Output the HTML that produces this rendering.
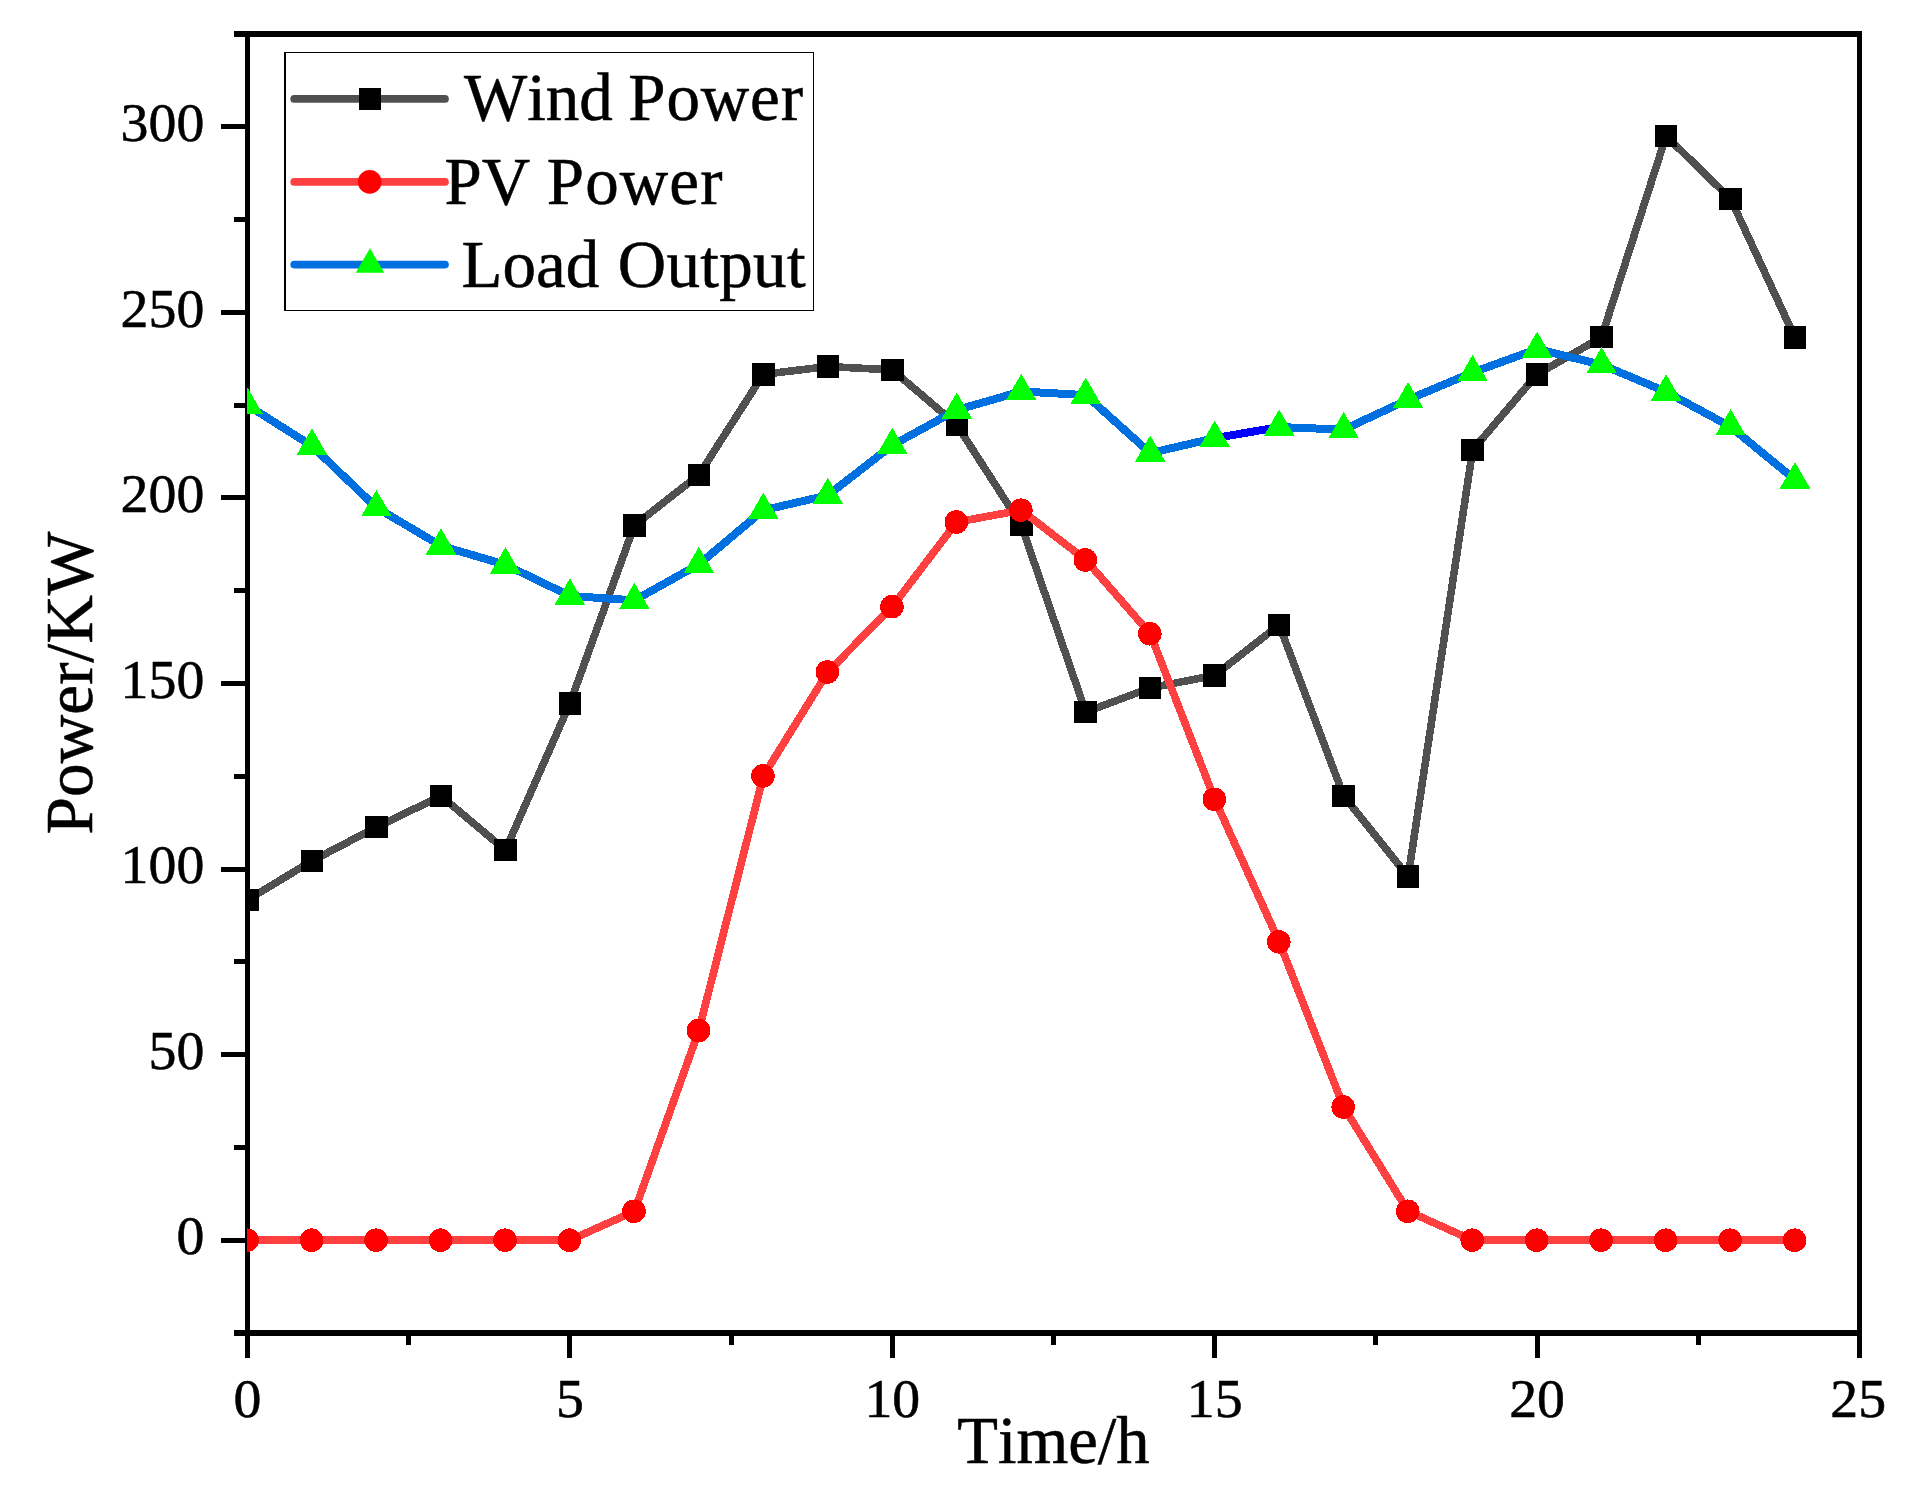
<!DOCTYPE html>
<html lang="en"><head><meta charset="utf-8"><title>Power / Time chart</title>
<style>html,body{margin:0;padding:0;background:#fff}body{width:1916px;height:1493px;overflow:hidden}svg{display:block}text{font-family:'Liberation Serif','Times New Roman',Times,serif;fill:#000;stroke:#000;stroke-width:0.55px;font-kerning:none;font-variant-ligatures:none}</style></head><body>
<svg width="1916" height="1493" viewBox="0 0 1916 1493">
<rect width="1916" height="1493" fill="#fff"/>
<defs><clipPath id="plotclip"><rect x="247" y="34" width="1612.5" height="1299"/></clipPath></defs>
<g fill="#000" shape-rendering="crispEdges">
<rect x="245" y="31" width="5" height="1305"/>
<rect x="1857" y="31" width="5" height="1305"/>
<rect x="245" y="31" width="1617" height="6"/>
<rect x="245" y="1330" width="1617" height="6"/>
<rect x="221" y="1238" width="24" height="5"/>
<rect x="221" y="1052" width="24" height="5"/>
<rect x="221" y="867" width="24" height="5"/>
<rect x="221" y="681" width="24" height="5"/>
<rect x="221" y="495" width="24" height="5"/>
<rect x="221" y="310" width="24" height="5"/>
<rect x="221" y="124" width="24" height="5"/>
<rect x="234" y="1330" width="11" height="6"/>
<rect x="234" y="1145" width="11" height="5"/>
<rect x="234" y="959" width="11" height="5"/>
<rect x="234" y="774" width="11" height="5"/>
<rect x="234" y="588" width="11" height="5"/>
<rect x="234" y="403" width="11" height="5"/>
<rect x="234" y="217" width="11" height="5"/>
<rect x="234" y="31" width="11" height="6"/>
<rect x="245" y="1336" width="5" height="22"/>
<rect x="567" y="1336" width="5" height="22"/>
<rect x="890" y="1336" width="5" height="22"/>
<rect x="1212" y="1336" width="5" height="22"/>
<rect x="1535" y="1336" width="5" height="22"/>
<rect x="1857" y="1336" width="5" height="22"/>
<rect x="406" y="1336" width="5" height="9"/>
<rect x="729" y="1336" width="5" height="9"/>
<rect x="1051" y="1336" width="5" height="9"/>
<rect x="1373" y="1336" width="5" height="9"/>
<rect x="1696" y="1336" width="5" height="9"/>
</g>
<g font-size="55.8px">
<text x="204.3" y="1254.41" text-anchor="end">0</text>
<text x="204.3" y="1068.84" text-anchor="end">50</text>
<text x="204.3" y="883.27" text-anchor="end">100</text>
<text x="204.3" y="697.7" text-anchor="end">150</text>
<text x="204.3" y="512.13" text-anchor="end">200</text>
<text x="204.3" y="326.56" text-anchor="end">250</text>
<text x="204.3" y="140.99" text-anchor="end">300</text>
<text x="247.5" y="1417.3" text-anchor="middle">0</text>
<text x="569.9" y="1417.3" text-anchor="middle">5</text>
<text x="892.3" y="1417.3" text-anchor="middle">10</text>
<text x="1214.7" y="1417.3" text-anchor="middle">15</text>
<text x="1537.1" y="1417.3" text-anchor="middle">20</text>
<text x="1858.2" y="1417.3" text-anchor="middle">25</text>
</g>
<text x="1053.5" y="1463" font-size="66.6px" text-anchor="middle">Time/h</text>
<text transform="translate(92.4 683) rotate(-90)" font-size="67.3px" text-anchor="middle">Power/KW</text>
<g clip-path="url(#plotclip)" shape-rendering="crispEdges">
<polyline points="247.5,899.88 311.98,860.91 376.46,827.13 440.94,795.96 505.42,850.14 569.9,703.54 634.38,525.39 698.86,474.92 763.34,374.34 827.82,366.54 892.3,369.88 956.78,424.81 1021.26,525.02 1085.74,712.08 1150.22,687.95 1214.7,675.33 1279.18,624.86 1343.66,795.96 1408.14,876.49 1472.62,450.05 1537.1,374.34 1601.58,337.22 1666.06,136.06 1730.54,198.79 1795.02,337.59" fill="none" stroke="#505050" stroke-width="7.6" stroke-linejoin="round" stroke-linecap="round"/>
<g fill="#000"><rect x="236.25" y="888.63" width="22.5" height="22.5"/><rect x="300.73" y="849.66" width="22.5" height="22.5"/><rect x="365.21" y="815.88" width="22.5" height="22.5"/><rect x="429.69" y="784.71" width="22.5" height="22.5"/><rect x="494.17" y="838.89" width="22.5" height="22.5"/><rect x="558.65" y="692.29" width="22.5" height="22.5"/><rect x="623.13" y="514.14" width="22.5" height="22.5"/><rect x="687.61" y="463.67" width="22.5" height="22.5"/><rect x="752.09" y="363.09" width="22.5" height="22.5"/><rect x="816.57" y="355.29" width="22.5" height="22.5"/><rect x="881.05" y="358.63" width="22.5" height="22.5"/><rect x="945.53" y="413.56" width="22.5" height="22.5"/><rect x="1010.01" y="513.77" width="22.5" height="22.5"/><rect x="1074.49" y="700.83" width="22.5" height="22.5"/><rect x="1138.97" y="676.7" width="22.5" height="22.5"/><rect x="1203.45" y="664.08" width="22.5" height="22.5"/><rect x="1267.93" y="613.61" width="22.5" height="22.5"/><rect x="1332.41" y="784.71" width="22.5" height="22.5"/><rect x="1396.89" y="865.24" width="22.5" height="22.5"/><rect x="1461.37" y="438.8" width="22.5" height="22.5"/><rect x="1525.85" y="363.09" width="22.5" height="22.5"/><rect x="1590.33" y="325.97" width="22.5" height="22.5"/><rect x="1654.81" y="124.81" width="22.5" height="22.5"/><rect x="1719.29" y="187.54" width="22.5" height="22.5"/><rect x="1783.77" y="326.34" width="22.5" height="22.5"/></g>
<polyline points="247.5,1240.21 311.98,1240.21 376.46,1240.21 440.94,1240.21 505.42,1240.21 569.9,1240.21 634.38,1211.27 698.86,1030.52 763.34,775.91 827.82,671.99 892.3,606.67 956.78,522.05 1021.26,510.18 1085.74,559.91 1150.22,633.77 1214.7,799.3 1279.18,941.82 1343.66,1106.97 1408.14,1211.27 1472.62,1240.21 1537.1,1240.21 1601.58,1240.21 1666.06,1240.21 1730.54,1240.21 1795.02,1240.21" fill="none" stroke="#FF4040" stroke-width="7.7" stroke-linejoin="round" stroke-linecap="round"/>
<g fill="#FF0000"><circle cx="247.1" cy="1240.21" r="11.8"/><circle cx="311.58" cy="1240.21" r="11.8"/><circle cx="376.06" cy="1240.21" r="11.8"/><circle cx="440.54" cy="1240.21" r="11.8"/><circle cx="505.02" cy="1240.21" r="11.8"/><circle cx="569.5" cy="1240.21" r="11.8"/><circle cx="633.98" cy="1211.27" r="11.8"/><circle cx="698.46" cy="1030.52" r="11.8"/><circle cx="762.94" cy="775.91" r="11.8"/><circle cx="827.42" cy="671.99" r="11.8"/><circle cx="891.9" cy="606.67" r="11.8"/><circle cx="956.38" cy="522.05" r="11.8"/><circle cx="1020.86" cy="510.18" r="11.8"/><circle cx="1085.34" cy="559.91" r="11.8"/><circle cx="1149.82" cy="633.77" r="11.8"/><circle cx="1214.3" cy="799.3" r="11.8"/><circle cx="1278.78" cy="941.82" r="11.8"/><circle cx="1343.26" cy="1106.97" r="11.8"/><circle cx="1407.74" cy="1211.27" r="11.8"/><circle cx="1472.22" cy="1240.21" r="11.8"/><circle cx="1536.7" cy="1240.21" r="11.8"/><circle cx="1601.18" cy="1240.21" r="11.8"/><circle cx="1665.66" cy="1240.21" r="11.8"/><circle cx="1730.14" cy="1240.21" r="11.8"/><circle cx="1794.62" cy="1240.21" r="11.8"/></g>
<polyline points="247.5,405.14 311.98,445.97 376.46,507.58 440.94,545.81 505.42,564.73 569.9,595.91 634.38,600.36 698.86,564.36 763.34,510.18 827.82,495.33 892.3,445.23 956.78,409.97 1021.26,391.41 1085.74,395.12 1150.22,453.02 1214.7,438.17 1279.18,427.04 1343.66,429.64 1408.14,399.58 1472.62,372.48 1537.1,349.1 1601.58,364.69 1666.06,391.78 1730.54,426.67 1795.02,479.74" fill="none" stroke="#0070E0" stroke-width="8" stroke-linejoin="round" stroke-linecap="round"/>
<polyline points="1214.7,438.17 1279.18,427.04" fill="none" stroke="#0000FF" stroke-width="8" stroke-linecap="butt"/>
<g fill="#00FF00"><polygon points="247.5,387.54 262.8,413.94 232.2,413.94"/><polygon points="311.98,428.37 327.28,454.77 296.68,454.77"/><polygon points="376.46,489.98 391.76,516.38 361.16,516.38"/><polygon points="440.94,528.21 456.24,554.61 425.64,554.61"/><polygon points="505.42,547.13 520.72,573.53 490.12,573.53"/><polygon points="569.9,578.31 585.2,604.71 554.6,604.71"/><polygon points="634.38,582.76 649.68,609.16 619.08,609.16"/><polygon points="698.86,546.76 714.16,573.16 683.56,573.16"/><polygon points="763.34,492.58 778.64,518.98 748.04,518.98"/><polygon points="827.82,477.73 843.12,504.13 812.52,504.13"/><polygon points="892.3,427.63 907.6,454.03 877,454.03"/><polygon points="956.78,392.37 972.08,418.77 941.48,418.77"/><polygon points="1021.26,373.81 1036.56,400.21 1005.96,400.21"/><polygon points="1085.74,377.52 1101.04,403.92 1070.44,403.92"/><polygon points="1150.22,435.42 1165.52,461.82 1134.92,461.82"/><polygon points="1214.7,420.57 1230,446.97 1199.4,446.97"/><polygon points="1279.18,409.44 1294.48,435.84 1263.88,435.84"/><polygon points="1343.66,412.04 1358.96,438.44 1328.36,438.44"/><polygon points="1408.14,381.98 1423.44,408.38 1392.84,408.38"/><polygon points="1472.62,354.88 1487.92,381.28 1457.32,381.28"/><polygon points="1537.1,331.5 1552.4,357.9 1521.8,357.9"/><polygon points="1601.58,347.09 1616.88,373.49 1586.28,373.49"/><polygon points="1666.06,374.18 1681.36,400.58 1650.76,400.58"/><polygon points="1730.54,409.07 1745.84,435.47 1715.24,435.47"/><polygon points="1795.02,462.14 1810.32,488.54 1779.72,488.54"/></g>
</g>
<g shape-rendering="crispEdges"><rect x="284" y="52" width="530" height="259" fill="#fff"/><rect x="284" y="52" width="2" height="259"/><rect x="284" y="52" width="530" height="1.2"/><rect x="812.8" y="52" width="1.3" height="259"/><rect x="284" y="309.8" width="530" height="1.2"/></g>
<line x1="294.2" y1="98.9" x2="445" y2="98.9" stroke="#505050" stroke-width="7.7" stroke-linecap="round"/>
<line x1="294.2" y1="181.9" x2="445" y2="181.9" stroke="#FF4040" stroke-width="7.7" stroke-linecap="round"/>
<line x1="294.2" y1="264.6" x2="445" y2="264.6" stroke="#0070E0" stroke-width="7.7" stroke-linecap="round"/>
<g fill="#000"><rect x="359" y="88" width="22" height="22"/></g>
<g fill="#FF0000"><circle cx="369.7" cy="181.9" r="11.8"/></g>
<g fill="#00FF00"><polygon points="370,248.27 384.25,272.77 355.75,272.77"/></g>
<g font-size="67px">
<text x="463.9" y="120.3">Wind <tspan dx="-1.25" letter-spacing="0.9">Power</tspan></text>
<text x="444.4" y="203.7">PV <tspan dx="0.05" letter-spacing="1.1">Power</tspan></text>
<text x="461.6" y="286.5">Load <tspan dx="1.65" letter-spacing="0.36">Output</tspan></text>
</g>
</svg></body></html>
